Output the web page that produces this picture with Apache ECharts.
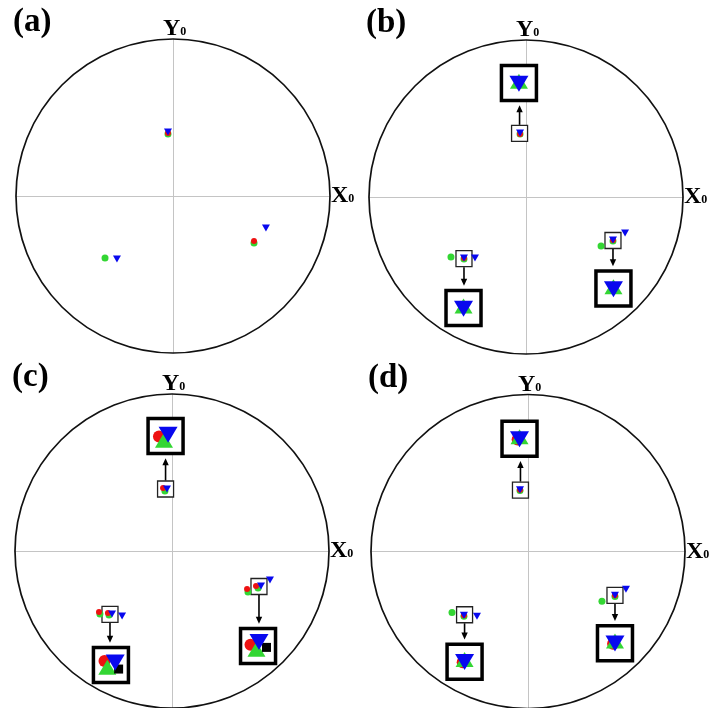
<!DOCTYPE html>
<html><head><meta charset="utf-8">
<script src="https://cdn.jsdelivr.net/npm/echarts@6/dist/echarts.min.js"></script>
<style>html,body{margin:0;padding:0;background:#fff}#c{width:715px;height:708px}</style>
</head><body><div id="c"></div><script>
// ---- data (unit stereographic coordinates) ----
const panelLabels = ['(a)', '(b)', '(c)', '(d)'];
const axisLabelX = 'X';
const axisLabelY = 'Y';
const axisSub = '0';

// panel (a)
const aGreen = [[-0.032, 0.395], [-0.433, -0.395], [0.516, -0.299]];
const aRed   = [[-0.032, 0.401], [0.516, -0.287]];
const aBlue  = [[-0.032, 0.408], [-0.357, -0.401], [0.592, -0.204]];

// panel (b)
const bGreen = [[-0.038, 0.401], [-0.478, -0.382], [-0.395, -0.395], [0.478, -0.312], [0.554, -0.280]];
const bRed   = [[-0.038, 0.401], [-0.395, -0.389], [0.554, -0.274]];
const bBlue  = [[-0.038, 0.408], [-0.395, -0.389], [-0.325, -0.389], [0.554, -0.274], [0.631, -0.229]];
const bBoxes = [[-0.041, 0.405, -0.045, 0.726], [-0.395, -0.392, -0.398, -0.707], [0.554, -0.277, 0.557, -0.583]];
const bInsetGreen = [[-0.045, 0.738], [-0.398, -0.695], [0.557, -0.571]];
const bInsetRed   = [];
const bInsetBlue  = [[-0.045, 0.722], [-0.398, -0.711], [0.557, -0.587]];
const bInsetBlack = [];

// panel (c)
const cGreen = [[-0.045, 0.382], [-0.459, -0.401], [-0.401, -0.408], [0.484, -0.261], [0.548, -0.236]];
const cRed   = [[-0.057, 0.401], [-0.465, -0.389], [-0.408, -0.395], [0.478, -0.242], [0.535, -0.223]];
const cBlue  = [[-0.032, 0.395], [-0.318, -0.414], [-0.382, -0.401], [0.624, -0.185], [0.567, -0.223]];
const cBoxes = [[-0.041, 0.395, -0.041, 0.732], [-0.395, -0.404, -0.389, -0.726], [0.554, -0.226, 0.548, -0.605]];
const cInsetRed   = [[-0.083, 0.730], [-0.430, -0.700], [0.500, -0.597]];
const cInsetGreen = [[-0.051, 0.706], [-0.412, -0.740], [0.538, -0.626]];
const cInsetBlack = [[-0.340, -0.752], [0.602, -0.614]];
const cInsetBlue  = [[-0.025, 0.740], [-0.362, -0.710], [0.554, -0.580]];

// panel (d)
const dGreen = [[-0.051, 0.389], [-0.484, -0.389], [-0.408, -0.414], [0.471, -0.318], [0.554, -0.287]];
const dRed   = [[-0.051, 0.395], [-0.408, -0.408], [0.554, -0.280]];
const dBlue  = [[-0.051, 0.395], [-0.325, -0.414], [-0.408, -0.408], [0.624, -0.242], [0.554, -0.280]];
const dBoxes = [[-0.048, 0.392, -0.054, 0.720], [-0.404, -0.404, -0.404, -0.704], [0.554, -0.280, 0.554, -0.586]];
const dInsetGreen = [[-0.054, 0.734], [-0.404, -0.690], [0.554, -0.572]];
const dInsetRed   = [[-0.066, 0.716], [-0.416, -0.708], [0.542, -0.590]];
const dInsetBlue  = [[-0.054, 0.718], [-0.404, -0.706], [0.554, -0.588]];
const dInsetBlack = [];

// ---- layout / style ----
const SIZE = 314;
const grids = [
  {left: 16, top: 39}, {left: 369, top: 40}, {left: 15, top: 394}, {left: 371, top: 395}
];
const C_GREEN = '#33d633', C_RED = '#ee1111', C_BLUE = '#0808ee', C_BLACK = '#000';
const FONT = '"Liberation Serif", "DejaVu Serif", serif';
const SMALL = 16, BIG = 35, BIG_LW = 3.5;

const panels = [
  {green: aGreen, red: aRed, blue: aBlue, boxes: [], ig: [], ir: [], ik: [], ib: []},
  {green: bGreen, red: bRed, blue: bBlue, boxes: bBoxes, ig: bInsetGreen, ir: bInsetRed, ik: bInsetBlack, ib: bInsetBlue},
  {green: cGreen, red: cRed, blue: cBlue, boxes: cBoxes, ig: cInsetGreen, ir: cInsetRed, ik: cInsetBlack, ib: cInsetBlue},
  {green: dGreen, red: dRed, blue: dBlue, boxes: dBoxes, ig: dInsetGreen, ir: dInsetRed, ik: dInsetBlack, ib: dInsetBlue}
];

function circleItem(params, api) {
  const c = api.coord([api.value(0), api.value(1)]);
  const r = api.size([api.value(2), 0])[0];
  return {type: 'circle', shape: {cx: c[0], cy: c[1], r: r},
    style: {fill: 'rgba(0,0,0,0)', stroke: '#111', lineWidth: 1.7}};
}
function boxItem(params, api) {
  const s = api.coord([api.value(0), api.value(1)]);
  const b = api.coord([api.value(2), api.value(3)]);
  const hs = SMALL / 2, hb = BIG / 2;
  const dir = b[1] < s[1] ? -1 : 1;
  const y0 = s[1] + dir * (hs + 0.6);
  const tipY = b[1] - dir * (hb + BIG_LW / 2 + 3);
  const x = s[0];
  return {type: 'group', children: [
    {type: 'rect', shape: {x: b[0] - hb, y: b[1] - hb, width: BIG, height: BIG},
      style: {fill: '#fff', stroke: '#000', lineWidth: BIG_LW}},
    {type: 'rect', shape: {x: s[0] - hs, y: s[1] - hs, width: SMALL, height: SMALL},
      style: {fill: '#fff', stroke: '#222', lineWidth: 1.3}},
    {type: 'line', shape: {x1: x, y1: y0, x2: x, y2: tipY - dir * 4},
      style: {stroke: '#000', lineWidth: 1.6}},
    {type: 'polygon', shape: {points: [[x, tipY], [x - 3.2, tipY - dir * 7], [x + 3.2, tipY - dir * 7]]},
      style: {fill: '#000'}}
  ]};
}

const option = {
  animation: false,
  backgroundColor: '#fff',
  grid: grids.map(g => ({left: g.left, top: g.top, width: SIZE, height: SIZE, containLabel: false})),
  xAxis: grids.map((g, i) => ({type: 'value', gridIndex: i, min: -1, max: 1,
    axisLine: {show: true, onZero: true, lineStyle: {color: '#c4c4c4', width: 1}},
    axisTick: {show: false}, axisLabel: {show: false}, splitLine: {show: false}})),
  yAxis: grids.map((g, i) => ({type: 'value', gridIndex: i, min: -1, max: 1,
    axisLine: {show: true, onZero: true, lineStyle: {color: '#c4c4c4', width: 1}},
    axisTick: {show: false}, axisLabel: {show: false}, splitLine: {show: false}})),
  title: [],
  series: []
};

panels.forEach((p, i) => {
  const g = grids[i];
  const cx = g.left + SIZE / 2, cy = g.top + SIZE / 2;
  option.title.push({text: panelLabels[i], left: g.left - 3, top: g.top - 33, padding: 0,
    textStyle: {fontFamily: FONT, fontSize: 33, fontWeight: 'bold', color: '#000'}});
  const rich = {
    m: {fontFamily: FONT, fontSize: 24, fontWeight: 'bold', color: '#000', lineHeight: 24},
    s: {fontFamily: FONT, fontSize: 12, fontWeight: 'bold', color: '#000', lineHeight: 24, padding: [6, 0, 0, 0]}
  };
  option.title.push({text: '{m|' + axisLabelY + '}{s|' + axisSub + '}', left: cx - 10, top: g.top - 22, padding: 0,
    textStyle: {rich: rich}});
  option.title.push({text: '{m|' + axisLabelX + '}{s|' + axisSub + '}', left: g.left + SIZE + 1, top: cy - 12, padding: 0,
    textStyle: {rich: rich}});

  const base = {xAxisIndex: i, yAxisIndex: i, silent: true, animation: false};
  option.series.push(Object.assign({type: 'custom', renderItem: circleItem, data: [[0, 0, 1]], z: 1}, base));
  if (p.boxes.length) option.series.push(Object.assign({type: 'custom', renderItem: boxItem, data: p.boxes, z: 2}, base));
  const sc = (data, color, symbol, size, z, rot) => Object.assign({type: 'scatter', data: data, symbol: symbol,
    symbolSize: size, symbolRotate: rot || 0, itemStyle: {color: color, opacity: 1}, z: z}, base);
  option.series.push(sc(p.green, C_GREEN, 'circle', 7, 3));
  option.series.push(sc(p.red, C_RED, 'circle', 6, 3));
  option.series.push(sc(p.blue, C_BLUE, 'triangle', [8, 7], 3, 180));
  if (p.boxes.length) {
    option.series.push(sc(p.ir, C_RED, 'circle', 12, 4));
    option.series.push(sc(p.ig, C_GREEN, 'triangle', [18, 15], 4));
    option.series.push(sc(p.ik, C_BLACK, 'rect', 9, 4));
    option.series.push(sc(p.ib, C_BLUE, 'triangle', [19, 16], 4, 180));
  }
});

const chart = echarts.init(document.getElementById('c'), null, {renderer: 'canvas'});
chart.setOption(option);
</script></body></html>
